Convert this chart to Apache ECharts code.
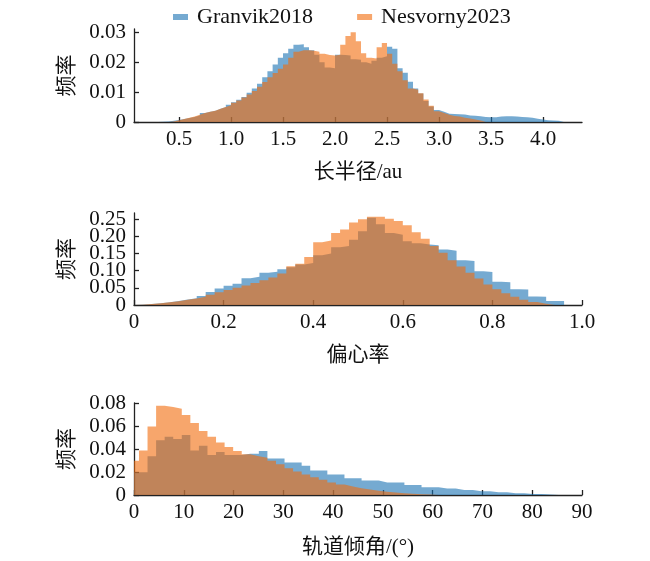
<!DOCTYPE html>
<html>
<head>
<meta charset="utf-8">
<script src="https://cdn.jsdelivr.net/npm/echarts@6/dist/echarts.min.js"></script>
<style>
  html, body { margin: 0; padding: 0; background: #fff; }
  #main { width: 650px; height: 561px; }
</style>
</head>
<body>
<div id="main"></div>
<script>
var seriesNames = ['Granvik2018', 'Nesvorny2023'];

// 长半径 (au), frequency per bin
var aBinWidth = 0.05;
var aGranvikStart = 0.30;
var aGranvik = [
  0.0001, 0.0002, 0.0004, 0.0007, 0.0010, 0.0013, 0.0017, 0.0022, 0.0030, 0.0034,
  0.0038, 0.0044, 0.0050, 0.0058, 0.0066, 0.0074, 0.0084, 0.0098, 0.0112, 0.0128,
  0.0150, 0.0170, 0.0192, 0.0215, 0.0230, 0.0245, 0.0258, 0.0260, 0.0250, 0.0240,
  0.0225, 0.0200, 0.0182, 0.0180, 0.0225, 0.0224, 0.0222, 0.0210, 0.0208, 0.0200,
  0.0195, 0.0205, 0.0215, 0.0220, 0.0252, 0.0245, 0.0180, 0.0165, 0.0135, 0.0112,
  0.0095, 0.0070, 0.0052, 0.0040, 0.0034, 0.0028, 0.0027, 0.0026, 0.0025, 0.0022,
  0.0021, 0.0019, 0.0017, 0.0016, 0.0016, 0.0018, 0.0019, 0.0019, 0.0018, 0.0017,
  0.0016, 0.0014, 0.0011, 0.0008, 0.0006, 0.0005, 0.0004, 0.0002
];
var aNesvornyStart = 0.40;
var aNesvorny = [
  0.0002, 0.0006, 0.0010, 0.0014, 0.0018, 0.0024, 0.0030, 0.0034, 0.0038, 0.0044,
  0.0050, 0.0056, 0.0064, 0.0072, 0.0082, 0.0092, 0.0104, 0.0118, 0.0134, 0.0150,
  0.0164, 0.0178, 0.0192, 0.0215, 0.0235, 0.0240, 0.0240, 0.0238, 0.0235, 0.0228,
  0.0224, 0.0222, 0.0225, 0.0258, 0.0288, 0.0300, 0.0270, 0.0230, 0.0215, 0.0212,
  0.0250, 0.0264, 0.0228, 0.0195, 0.0170, 0.0140, 0.0112, 0.0108, 0.0096, 0.0075,
  0.0054, 0.0036, 0.0030, 0.0024, 0.0020, 0.0018, 0.0014, 0.0012, 0.0008, 0.0005,
  0.0002
];

// 偏心率
var eBinWidth = 0.02;
var eGranvikStart = 0;
var eGranvik = [
  0.001, 0.003, 0.005, 0.008, 0.012, 0.016, 0.020, 0.026, 0.038, 0.048,
  0.056, 0.062, 0.078, 0.082, 0.094, 0.097, 0.104, 0.110, 0.118, 0.122,
  0.145, 0.150, 0.168, 0.172, 0.190, 0.215, 0.254, 0.235, 0.210, 0.205,
  0.186, 0.180, 0.176, 0.174, 0.162, 0.158, 0.130, 0.128, 0.098, 0.096,
  0.068, 0.066, 0.046, 0.045, 0.025, 0.024, 0.012, 0.012
];
var eNesvornyStart = 0;
var eNesvorny = [
  0.001, 0.003, 0.005, 0.008, 0.011, 0.015, 0.019, 0.024, 0.030, 0.037,
  0.044, 0.050, 0.057, 0.064, 0.072, 0.080, 0.092, 0.113, 0.120, 0.140,
  0.183, 0.188, 0.210, 0.220, 0.240, 0.250, 0.257, 0.257, 0.251, 0.245,
  0.232, 0.212, 0.193, 0.172, 0.152, 0.130, 0.112, 0.094, 0.077, 0.060,
  0.046, 0.034, 0.024, 0.015, 0.009, 0.004, 0.001
];

// 轨道倾角 (°)
var iBinWidth = 1.72;
var iGranvikStart = -0.72;
var iGranvik = [
  0.0200, 0.0200, 0.0340, 0.0480, 0.0510, 0.0490, 0.0525, 0.0390, 0.0430, 0.0350,
  0.0377, 0.0350, 0.0350, 0.0360, 0.0360, 0.0385, 0.0320, 0.0320, 0.0285, 0.0285,
  0.0257, 0.0215, 0.0215, 0.0180, 0.0180, 0.0147, 0.0147, 0.0127, 0.0127, 0.0110,
  0.0110, 0.0110, 0.0088, 0.0088, 0.0068, 0.0068, 0.0056, 0.0056, 0.0044, 0.0044,
  0.0032, 0.0032, 0.0024, 0.0024, 0.0015, 0.0015, 0.0009, 0.0009, 0.0004, 0.0003
];
var iNesvornyStart = -0.72;
var iNesvorny = [
  0.0300, 0.0390, 0.0600, 0.0780, 0.0770, 0.0755, 0.0700, 0.0630, 0.0560, 0.0510,
  0.0460, 0.0420, 0.0385, 0.0356, 0.0340, 0.0325, 0.0300, 0.0270, 0.0235, 0.0205,
  0.0180, 0.0155, 0.0133, 0.0110, 0.0092, 0.0075, 0.0060, 0.0048, 0.0037, 0.0028,
  0.0021, 0.0015, 0.0011, 0.0007, 0.0004, 0.0002
];

var xNames = ['长半径/au', '偏心率', '轨道倾角/(°)'];
var yName = '频率';

var colors = ['rgba(25,113,178,0.6)', 'rgba(242,106,10,0.6)'];
var serif = "'Liberation Serif', 'Noto Sans CJK SC', serif";
var axisColor = '#222';

function toSteps(start, width, values) {
  var pts = [[start, 0]];
  for (var k = 0; k < values.length; k++) {
    pts.push([start + k * width, values[k]]);
  }
  pts.push([start + values.length * width, 0]);
  return pts;
}

function fixed(d) {
  return function (v) { return v === 0 ? '0' : v.toFixed(d); };
}

function label(extra) {
  return Object.assign({
    fontFamily: serif, fontSize: 21, color: '#111', margin: 8, hideOverlap: false
  }, extra);
}

var grids = [
  { left: 134, right: 68, top: 29, height: 93 },
  { left: 134, right: 68, top: 213, height: 92 },
  { left: 134, right: 68, top: 403, height: 92 }
];
grids.forEach(function (g) { g.outerBoundsMode = 'none'; g.containLabel = false; });

function xAxis(idx, opts) {
  return Object.assign({
    type: 'value',
    gridIndex: idx,
    name: xNames[idx],
    nameLocation: 'middle',
    nameGap: 40,
    nameTextStyle: { fontFamily: serif, fontSize: 21, color: '#111' },
    axisLine: { onZero: false, lineStyle: { color: axisColor, width: 1.3 } },
    axisTick: { inside: true, length: 5, lineStyle: { color: axisColor, width: 1.3 } },
    axisLabel: label({ margin: 10, lineHeight: 15 }),
    splitLine: { show: false }
  }, opts);
}

function yAxis(idx, opts) {
  return Object.assign({
    type: 'value',
    gridIndex: idx,
    position: 'left',
    min: 0,
    name: yName,
    nameLocation: 'middle',
    nameGap: 54,
    nameTextStyle: { fontFamily: serif, fontSize: 21, color: '#111' },
    axisLine: { show: true, lineStyle: { color: axisColor, width: 1.3 } },
    axisTick: { show: true, inside: true, length: 5, lineStyle: { color: axisColor, width: 1.3 } },
    axisLabel: label({ showMinLabel: true, showMaxLabel: false, formatter: fixed(2) }),
    splitLine: { show: false }
  }, opts);
}

function histSeries(name, idx, data, color) {
  return {
    name: name,
    type: 'line',
    xAxisIndex: idx,
    yAxisIndex: idx,
    step: 'end',
    data: data,
    showSymbol: false,
    symbol: 'none',
    silent: true,
    itemStyle: { color: color },
    lineStyle: { width: 0, color: color },
    areaStyle: { color: color, opacity: 1 }
  };
}

var chart = echarts.init(document.getElementById('main'), null, { renderer: 'canvas' });

chart.setOption({
  animation: false,
  backgroundColor: '#fff',
  legend: {
    top: 1,
    left: 168,
    icon: 'rect',
    itemWidth: 15,
    itemHeight: 6,
    itemGap: 44,
    textStyle: { fontFamily: serif, fontSize: 22, color: '#111', padding: [0, 0, 0, 4] },
    data: [
      { name: seriesNames[0], itemStyle: { color: colors[0] } },
      { name: seriesNames[1], itemStyle: { color: colors[1] } }
    ]
  },
  grid: grids,
  xAxis: [
    xAxis(0, { min: 0.067, max: 4.375, splitNumber: 8,
      axisLabel: label({ margin: 10, lineHeight: 15, showMinLabel: false, showMaxLabel: false, formatter: fixed(1) }) }),
    xAxis(1, { min: 0, max: 1, interval: 0.2,
      axisLabel: label({ margin: 10, lineHeight: 15, formatter: fixed(1) }) }),
    xAxis(2, { min: 0, max: 90, interval: 10, nameGap: 42 })
  ],
  yAxis: [
    yAxis(0, { max: 0.0311, interval: 0.01 }),
    // min label of this axis would collide with 0.05, so it is drawn by axis 3
    yAxis(1, { max: 0.268, interval: 0.05,
      axisLabel: label({ showMinLabel: false, showMaxLabel: false, formatter: fixed(2) }) }),
    yAxis(2, { max: 0.0805, interval: 0.02 }),
    {
      type: 'value', gridIndex: 1, position: 'left', min: 0, max: 0.268, interval: 1,
      axisLine: { show: false }, axisTick: { show: false }, splitLine: { show: false },
      axisLabel: label({ showMinLabel: true, showMaxLabel: false, formatter: fixed(2) })
    }
  ],
  series: [
    histSeries(seriesNames[0], 0, toSteps(aGranvikStart, aBinWidth, aGranvik), colors[0]),
    histSeries(seriesNames[1], 0, toSteps(aNesvornyStart, aBinWidth, aNesvorny), colors[1]),
    histSeries(seriesNames[0], 1, toSteps(eGranvikStart, eBinWidth, eGranvik), colors[0]),
    histSeries(seriesNames[1], 1, toSteps(eNesvornyStart, eBinWidth, eNesvorny), colors[1]),
    histSeries(seriesNames[0], 2, toSteps(iGranvikStart, iBinWidth, iGranvik), colors[0]),
    histSeries(seriesNames[1], 2, toSteps(iNesvornyStart, iBinWidth, iNesvorny), colors[1])
  ]
});
</script>
</body>
</html>
